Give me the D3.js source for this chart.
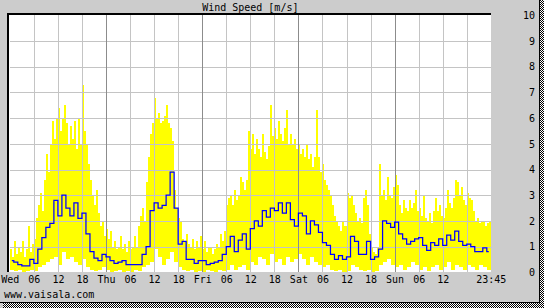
<!DOCTYPE html>
<html>
<head>
<meta charset="utf-8">
<script src="https://cdn.jsdelivr.net/npm/d3@7"></script>
<style>
  html, body { margin: 0; padding: 0; background: #cccccc; }
  svg { display: block; }
  text { font-family: 'DejaVu Sans Mono', 'Liberation Mono', monospace; font-size: 10px; fill: #000; }
</style>
</head>
<body>
<div id="viz"></div>
<script>
'use strict';

// hourly mean wind speed, Wed 00:00 .. Sun 23:00 (m/s)
const meanWind = [
  0.45, 0.4, 0.3, 0.25, 0.25, 0.5, 0.35, 0.9, 1.35, 1.75, 1.9, 2.8, 2.2, 3.0, 2.5, 2.2, 2.7, 2.1, 2.3, 1.5, 0.8, 0.55, 0.45, 0.7,
  0.6, 0.45, 0.35, 0.4, 0.45, 0.3, 0.3, 0.3, 0.3, 0.7, 1.0, 2.4, 2.7, 2.5, 2.6, 3.0, 3.9, 2.5, 1.1, 1.2, 0.5, 0.5, 0.35, 0.45,
  0.45, 0.3, 0.35, 0.4, 0.45, 0.7, 1.0, 1.4, 0.8, 1.25, 1.5, 0.9, 1.7, 2.0, 1.8, 2.4, 2.15, 2.5, 2.4, 2.7, 2.3, 2.7, 2.05, 1.8,
  2.3, 2.2, 1.5, 2.0, 1.85, 1.55, 1.15, 1.05, 0.7, 0.5, 0.65, 0.5, 0.6, 1.4, 1.2, 0.7, 0.7, 1.2, 0.5, 0.6, 0.9, 2.0, 1.9, 1.75,
  1.95, 1.5, 1.3, 1.1, 1.2, 1.3, 1.35, 1.05, 0.85, 1.15, 1.05, 1.3, 1.05, 1.45, 1.25, 1.6, 1.2, 1.05, 1.1, 1.0, 0.8, 0.8, 0.95, 0.8
];

// half-hourly maximum (gust) wind speed (m/s)
const maxWind = [
  0.9, 0.6, 1.2, 0.7, 1.0, 0.8, 1.2, 0.6, 0.9, 1.8, 0.8, 1.1, 1.3, 2.1, 2.6, 3.1, 2.4, 3.6, 4.6, 3.9, 5.0, 5.9, 5.2, 6.0,
  6.4, 5.5, 6.0, 6.5, 5.8, 5.0, 5.7, 5.2, 5.9, 4.8, 6.0, 5.0, 7.3, 5.5, 5.0, 4.2, 3.6, 3.0, 2.6, 3.2, 2.3, 1.8, 2.0, 1.4,
  1.7, 1.3, 1.6, 1.0, 1.2, 0.9, 1.0, 1.4, 0.9, 1.1, 0.8, 1.2, 0.9, 1.0, 1.4, 1.0, 1.8, 2.2, 2.5, 2.0, 3.5, 4.5, 5.4, 5.8,
  6.8, 6.0, 6.2, 5.8, 5.9, 6.1, 6.5, 5.8, 5.6, 5.1, 3.2, 2.5, 2.1, 2.0, 1.3, 1.2, 1.5, 1.1, 1.0, 1.3, 0.9, 1.2, 1.0, 1.4,
  0.9, 1.2, 0.8, 1.0, 1.0, 0.7, 0.9, 1.1, 1.0, 1.5, 1.2, 1.6, 2.6, 2.9, 3.0, 2.6, 3.2, 2.8, 3.0, 3.7, 3.5, 3.2, 3.6, 5.5,
  4.8, 5.4, 4.6, 5.2, 4.8, 4.5, 5.4, 4.7, 4.4, 4.9, 6.5, 5.3, 5.6, 5.2, 5.9, 5.4, 5.1, 5.6, 6.3, 5.0, 5.4, 5.0, 5.2, 4.8,
  5.0, 4.6, 4.8, 4.5, 5.0, 4.4, 4.6, 4.1, 4.5, 6.3, 4.5, 3.9, 4.2, 3.6, 3.4, 3.2, 3.0, 2.6, 2.2, 2.0, 1.8, 1.6, 2.0, 1.8,
  3.1, 2.9, 3.0, 2.6, 2.3, 2.0, 2.1, 1.9, 2.9, 3.2, 2.6, 1.5, 1.0, 0.8, 0.7, 1.0, 4.2, 3.0, 3.2, 2.8, 3.7, 3.0, 2.9, 3.3,
  3.8, 3.4, 2.6, 2.3, 2.8, 2.5, 2.4, 2.8, 2.5, 2.7, 3.2, 2.4, 2.5, 2.2, 3.0, 2.1, 2.0, 2.3, 1.9, 2.4, 2.9, 2.4, 2.6, 2.2,
  2.1, 2.5, 3.2, 2.7, 2.5, 2.9, 3.6, 3.5, 3.0, 3.3, 2.8, 2.6, 3.1, 2.9, 2.8, 2.4, 2.0, 2.1, 1.9, 2.0, 2.0, 1.8, 1.9, 2.0
];

// hourly minimum wind speed (m/s)
const minWind = [
  0.1, 0.05, 0.1, 0, 0.05, 0.1, 0.05, 0.2, 0.3, 0.4, 0.5, 0.6, 0.3, 0.8, 0.5, 0.6, 0.4, 0.3, 0.5, 0.2, 0.1, 0.05, 0.1, 0.2,
  0.1, 0, 0.05, 0.1, 0, 0.05, 0, 0.1, 0.05, 0.2, 0.3, 0.4, 0.9, 0.6, 0.3, 0.5, 0.8, 0.4, 0.2, 0.1, 0.05, 0.1, 0, 0.05,
  0, 0.1, 0.05, 0, 0.1, 0.05, 0.1, 0.3, 0.1, 0.2, 0.3, 0.1, 0.4, 0.3, 0.6, 0.5, 0.3, 0.7, 0.4, 0.5, 0.3, 0.6, 0.4, 0.5,
  0.7, 0.5, 0.3, 0.6, 0.4, 0.3, 0.2, 0.3, 0.1, 0.05, 0.1, 0, 0.05, 0.3, 0.2, 0.1, 0.05, 0.1, 0, 0.05, 0.3, 0.4, 0.5, 0.3,
  0.2, 0.3, 0.1, 0.2, 0.4, 0.3, 0.1, 0.2, 0.05, 0.2, 0.3, 0.1, 0.2, 0.4, 0.1, 0.3, 0.2, 0.1, 0.3, 0.2, 0.1, 0.3, 0.2, 0.1
];

// x ticks in hours from Wed 00:00
const tickHours = [0, 6, 12, 18, 24, 30, 36, 42, 48, 54, 60, 66, 72, 78, 84, 90, 96, 102, 108, 120];
const tickLabels = ['Wed', '06', '12', '18', 'Thu', '06', '12', '18', 'Fri', '06', '12', '18',
  'Sat', '06', '12', '18', 'Sun', '06', '12', '23:45'];
const gridHours = d3.range(6, 120, 6);
const yTicks = [0, 1, 2, 3, 4, 5, 6, 7, 8, 9, 10];

const W = 544, H = 308;
const plot = {left: 9.8, right: 490.8, top: 15.3, bottom: 272.3};

const x = d3.scaleLinear().domain([0, 120]).range([plot.left, plot.right]);
const y = d3.scaleLinear().domain([0, 10]).range([plot.bottom, plot.top]);

const svg = d3.select('#viz')
  .append('svg')
    .attr('width', W)
    .attr('height', H);

// dithered drop shadow pattern
const pat = svg.append('defs')
  .append('pattern')
    .attr('id', 'dither')
    .attr('width', 2)
    .attr('height', 2)
    .attr('patternUnits', 'userSpaceOnUse');
pat.append('rect').attr('width', 2).attr('height', 2).attr('fill', '#fff');
pat.append('rect').attr('width', 1).attr('height', 1).attr('fill', '#000');
pat.append('rect').attr('x', 1).attr('y', 1).attr('width', 1).attr('height', 1).attr('fill', '#000');

svg.append('rect')
  .attr('width', W)
  .attr('height', H)
  .attr('fill', '#cccccc');

svg.append('rect').attr('x', 540).attr('y', 0).attr('width', 4).attr('height', H).attr('fill', 'url(#dither)');
svg.append('rect').attr('x', 3).attr('y', 303).attr('width', W - 3).attr('height', 5).attr('fill', 'url(#dither)');
svg.append('rect').attr('x', 539).attr('y', 0).attr('width', 1).attr('height', 303).attr('fill', '#000');
svg.append('rect').attr('x', 0).attr('y', 302).attr('width', 540).attr('height', 1).attr('fill', '#000');

// plot area
svg.append('rect')
  .attr('x', 9)
  .attr('y', 14)
  .attr('width', 482)
  .attr('height', 258)
  .attr('fill', '#fff');

// min..max range bars
svg.append('g')
  .attr('shape-rendering', 'crispEdges')
  .selectAll('rect')
  .data(maxWind)
  .join('rect')
    .attr('x', (d, i) => x(i * 0.5))
    .attr('width', (d, i) => x(i * 0.5 + 0.5) - x(i * 0.5))
    .attr('y', d => y(d))
    .attr('height', (d, i) => y(minWind[Math.floor(i / 2)]) - y(d))
    .attr('fill', '#ffff00');

// gridlines
const grid = svg.append('g')
  .attr('shape-rendering', 'crispEdges');

grid.selectAll('.hgrid')
  .data(yTicks.slice(1, -1))
  .join('line')
    .attr('class', 'hgrid')
    .attr('x1', plot.left)
    .attr('x2', plot.right)
    .attr('y1', d => Math.round(y(d)) + 0.5)
    .attr('y2', d => Math.round(y(d)) + 0.5)
    .attr('stroke', '#c4c4c4');

grid.selectAll('.vgrid')
  .data(gridHours)
  .join('line')
    .attr('class', 'vgrid')
    .attr('x1', d => Math.round(x(d)) + 0.5)
    .attr('x2', d => Math.round(x(d)) + 0.5)
    .attr('y1', plot.top)
    .attr('y2', plot.bottom)
    .attr('stroke', d => d % 24 === 0 ? '#8c8c8c' : '#c4c4c4');

// mean line
svg.append('path')
  .datum(meanWind)
  .attr('fill', 'none')
  .attr('stroke', '#0000ff')
  .attr('stroke-width', 1.25)
  .attr('d', d3.line()
    .x((d, i) => x(i + 0.5))
    .y(d => y(d))
    .curve(d3.curveStep)
  );

// frame (top and left)
svg.append('rect').attr('x', 8).attr('y', 13).attr('width', 483).attr('height', 2).attr('fill', '#000');
svg.append('rect').attr('x', 7).attr('y', 13).attr('width', 2).attr('height', 259).attr('fill', '#000');

// right axis
const yAxis = svg.append('g')
  .attr('transform', 'translate(535,0)')
  .call(d3.axisRight(y).tickValues(yTicks).tickSize(0).tickPadding(0));
yAxis.select('.domain').remove();
yAxis.selectAll('text')
  .attr('text-anchor', 'end')
  .attr('font-family', null)
  .attr('font-size', null);

// bottom axis labels
const xAxis = svg.append('g')
  .attr('transform', 'translate(0,274)')
  .call(d3.axisBottom(x)
    .tickValues(tickHours)
    .tickFormat((d, i) => tickLabels[i])
    .tickSize(0)
    .tickPadding(2));
xAxis.select('.domain').remove();
xAxis.selectAll('text')
  .attr('font-family', null)
  .attr('font-size', null);

svg.append('text')
  .attr('x', (plot.left + plot.right) / 2)
  .attr('y', 11)
  .attr('text-anchor', 'middle')
  .text('Wind Speed [m/s]');

svg.append('text')
  .attr('x', 4)
  .attr('y', 298)
  .text('www.vaisala.com');
</script>
</body>
</html>
